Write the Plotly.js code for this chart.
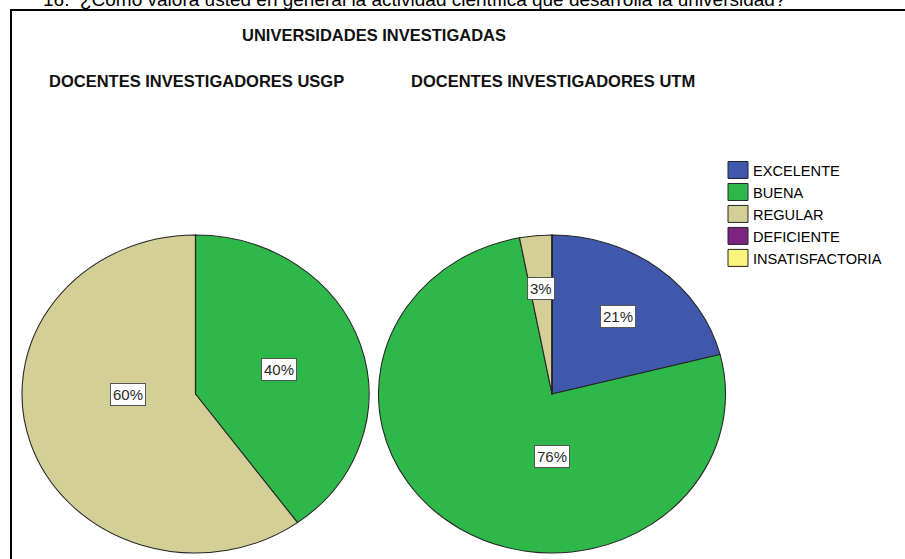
<!DOCTYPE html>
<html>
<head>
<meta charset="utf-8">
<script src="https://cdn.plot.ly/plotly-3.0.1.min.js"></script>
<style>html,body{margin:0;padding:0;background:#fff}#chart{width:905px;height:559px}</style>
</head>
<body>
<div id="chart"></div>
<script>
// ---- data ----
const categories = ['EXCELENTE', 'BUENA', 'REGULAR', 'DEFICIENTE', 'INSATISFACTORIA'];
const usgpValues = [0, 40, 60, 0, 0];
const utmValues = [21, 76, 3, 0, 0];
const pieNames = ['DOCENTES INVESTIGADORES USGP', 'DOCENTES INVESTIGADORES UTM'];
const mainTitle = 'UNIVERSIDADES INVESTIGADAS';
const questionText = '16.  ¿Cómo valora usted en general la actividad científica que desarrolla la universidad?';

// ---- styles / geometry ----
const colors = ['#3f58ab', '#2eb84a', '#d4cf97', '#7b237f', '#f9f47c'];
const W = 905, H = 559;
const pieCx = [195.5, 552];
const pieCy = 394;
const rY = 159, rX = 173.5;
const sx = rX / rY;

const series = [usgpValues, utmValues];
const px = x => x / W;
const py = y => 1 - y / H;

const traces = series.map((vals, i) => ({
  type: 'pie',
  name: pieNames[i],
  labels: categories,
  values: vals,
  sort: false,
  direction: 'clockwise',
  rotation: 0,
  textinfo: 'none',
  hoverinfo: 'none',
  marker: {colors: colors, line: {color: '#262626', width: 1}},
  domain: {
    x: [px(pieCx[i] - rY), px(pieCx[i] + rY)],
    y: [py(pieCy + rY), py(pieCy - rY)]
  }
}));

const annotations = [];
// percentage labels computed from the data
series.forEach((vals, i) => {
  const total = vals.reduce((a, b) => a + b, 0);
  let cum = 0;
  vals.forEach(v => {
    const frac = v / total;
    const start = cum; cum += frac;
    if (v <= 0) return;
    let mid = (start + cum) / 2 * 2 * Math.PI;
    let d;
    if (frac <= 0.5) {
      const half = frac * Math.PI;
      d = (2 / 3) * Math.sin(half) / half;
    } else {
      mid = Math.round(mid / (Math.PI / 2)) * (Math.PI / 2);
      d = 0.39;
    }
    const x = pieCx[i] + d * rX * Math.sin(mid);
    const y = pieCy - d * rY * Math.cos(mid);
    annotations.push({
      xref: 'paper', yref: 'paper', x: px(x), y: py(y),
      xanchor: 'center', yanchor: 'middle', showarrow: false,
      text: Math.round(frac * 100) + '%',
      font: {family: 'Liberation Sans, Arial, sans-serif', size: 15, color: '#2a2a2a'},
      bgcolor: '#ffffff', bordercolor: '#555555', borderwidth: 1, borderpad: 2
    });
  });
});

const titleFont = {family: 'Liberation Sans, Arial, sans-serif', size: 16.5, color: '#111'};
annotations.push({
  xref: 'paper', yref: 'paper', x: px(374), y: py(35), xanchor: 'center', yanchor: 'middle',
  showarrow: false, text: '<b>' + mainTitle + '</b>', font: titleFont
});
annotations.push({
  xref: 'paper', yref: 'paper', x: px(196.5), y: py(81), xanchor: 'center', yanchor: 'middle',
  showarrow: false, text: '<b>' + pieNames[0] + '</b>', font: titleFont
});
annotations.push({
  xref: 'paper', yref: 'paper', x: px(553), y: py(81), xanchor: 'center', yanchor: 'middle',
  showarrow: false, text: '<b>' + pieNames[1] + '</b>', font: titleFont
});
annotations.push({
  xref: 'paper', yref: 'paper', x: px(41), y: py(12), xanchor: 'left', yanchor: 'bottom',
  showarrow: false, text: questionText,
  font: {family: 'Liberation Sans, Arial, sans-serif', size: 19, color: '#000'}
});

const layout = {
  width: W, height: H,
  margin: {l: 0, r: 0, t: 0, b: 0},
  paper_bgcolor: '#ffffff',
  hovermode: false,
  showlegend: true,
  legend: {
    x: px(713), y: py(154), xanchor: 'left', yanchor: 'top',
    bgcolor: 'rgba(0,0,0,0)', borderwidth: 0,
    font: {family: 'Liberation Sans, Arial, sans-serif', size: 14.6, color: '#000'}
  },
  annotations: annotations,
  shapes: [{
    type: 'rect', xref: 'paper', yref: 'paper',
    x0: px(11), x1: 1.05, y0: -0.05, y1: py(10),
    line: {color: '#000', width: 2}, fillcolor: 'rgba(0,0,0,0)', layer: 'below'
  }]
};

Plotly.newPlot('chart', traces, layout, {staticPlot: true, displayModeBar: false}).then(gd => {
  // stretch pies horizontally to match the elliptical originals
  const groups = gd.querySelectorAll('.pielayer .trace');
  groups.forEach((g, i) => {
    const cx = pieCx[i], cy = pieCy;
    const existing = g.getAttribute('transform') || '';
    g.setAttribute('transform',
      'translate(' + cx + ',' + cy + ') scale(' + sx + ',1) translate(' + (-cx) + ',' + (-cy) + ') ' + existing);
  });
  // larger legend swatches
  gd.querySelectorAll('.legend path.legendpie').forEach(p => {
    p.setAttribute('d', 'M10,8.5H-10V-8.5H10Z');
    p.setAttribute('transform', 'translate(25,0)');
  });
});
</script>
</body>
</html>
